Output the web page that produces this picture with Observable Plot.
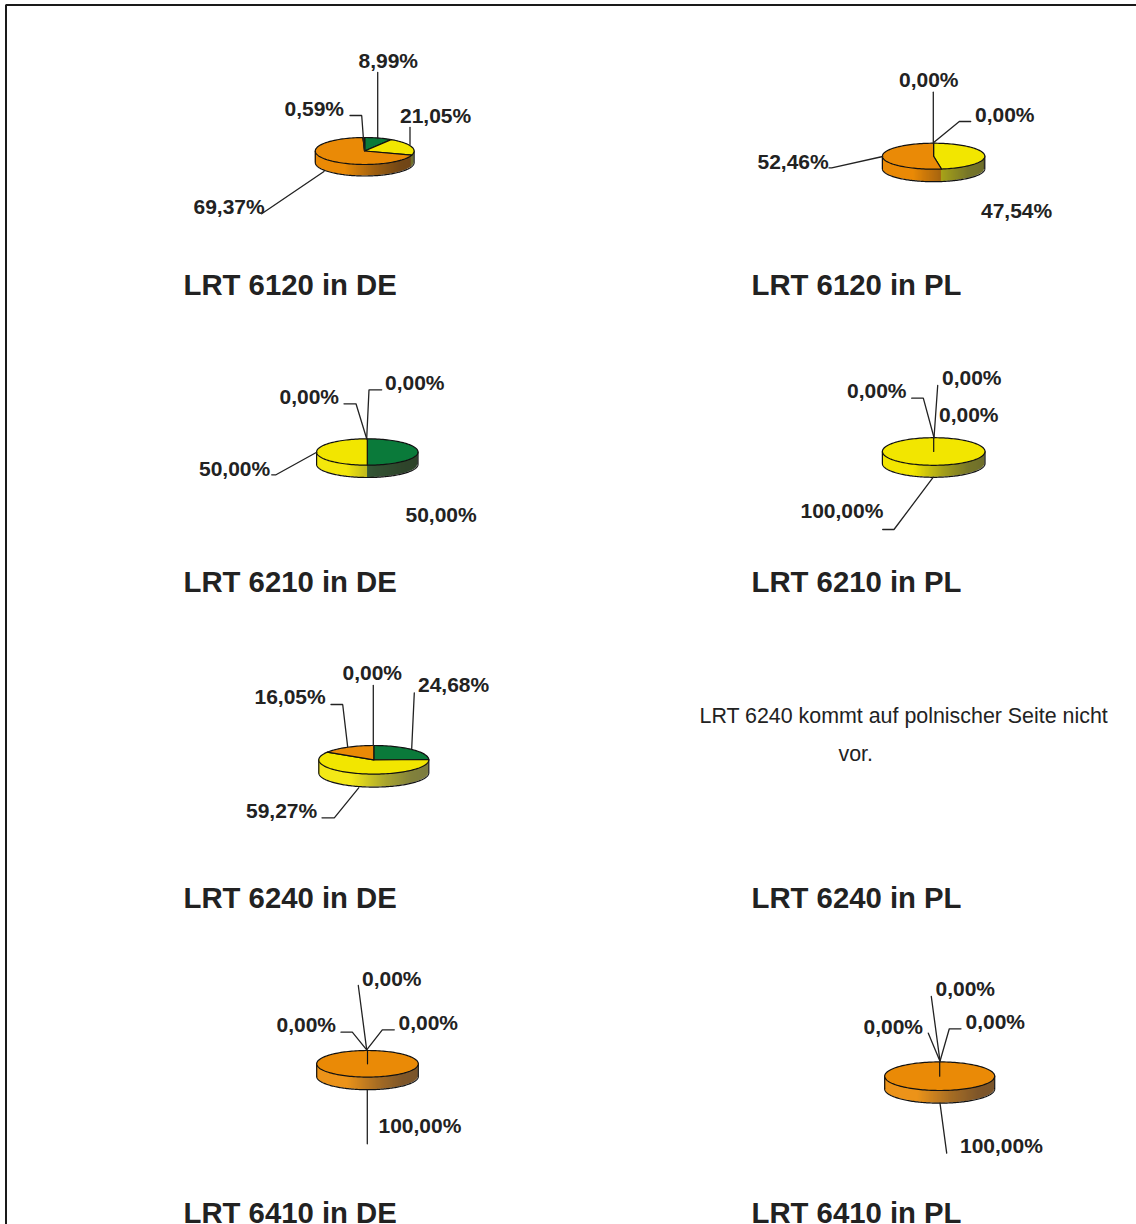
<!DOCTYPE html>
<html>
<head>
<meta charset="utf-8">
<style>html,body{margin:0;padding:0;background:#fff}svg{display:block}</style>
<script src="https://cdn.jsdelivr.net/npm/d3@7"></script>
<script src="https://cdn.jsdelivr.net/npm/@observablehq/plot@0.6"></script>
</head>
<body>
<script>
// ---- chart values ----
const panels = ["LRT 6120 in DE","LRT 6120 in PL","LRT 6210 in DE","LRT 6210 in PL","LRT 6240 in DE","LRT 6240 in PL","LRT 6410 in DE","LRT 6410 in PL"];
const green  = [ 8.99,  0.00, 50.00,   0.00, 24.68, null,   0.00,   0.00];
const yellow = [21.05, 47.54, 50.00, 100.00, 59.27, null,   0.00,   0.00];
const orange = [69.37, 52.46,  0.00,   0.00, 16.05, null, 100.00, 100.00];
const other  = [ 0.59,  0.00,  0.00,   0.00,  0.00, null,   0.00,   0.00];
const noteLines = ["LRT 6240 kommt auf polnischer Seite nicht", "vor."];

// ---- layout (page-pixel scale) ----
const titleX = [184,752,184,752,184,752,184,752];
const titleY = [285,285,582,582,898,898,1213,1213];
const noteX = [700,839], noteY = [716,754];
const pieCx = [364.7,933.6,367.3,933.7,373.8,null,367.5,939.7];
const pieCy = [150.5,155.7,451.5,451,759.3,null,1063.3,1075.7];
const pieRx = [49.4,51.2,50.7,51.3,55,null,50.8,55];
const pieRy = [13.5,13,13.2,13.8,14.3,null,13.3,14.3];
const pieDepth = [11.5,12.5,12.3,12,13,null,12.6,12.7];
// label anchors in order green, yellow, orange, other
const labelX = [[359,400.5,194,285],[975.5,981.5,758,899.5],[406,199.5,385.5,280],[942.5,801,939.5,847.5],[418.5,246.5,255,343],null,[399,277,379,362.5],[966,864,960.5,936]];
const labelY = [[61,116,207,109],[115,211,162,80],[515,469,383,397],[378,511,415,391],[685,811,697,673],null,[1023,1025,1126,979],[1022,1027,1146,989]];
const leaders = [
  [[377.7,72],[377.7,138]], [[350,115],[361.7,115],[364.3,150]], [[410,127],[410,144]], [[261.7,213.3],[324,171]],
  [[933.3,91.7],[933.3,142.7]], [[970.7,121],[959.3,121],[934,141.7]], [[829,167.3],[831.7,167.3],[882.7,156]],
  [[381.7,389.3],[369,389.3],[366.7,438.3]], [[344,403.3],[356,403.3],[366.7,438.3]], [[271.7,474.3],[276,474.3],[316.7,451.7]],
  [[937.7,385],[934,437.3]], [[911.7,397.7],[923.3,397.7],[934,437]], [[882.7,529],[894,529],[933.3,476.7]],
  [[373.3,685],[373.3,745]], [[414.3,692.3],[411.7,748.3]], [[331,704],[342.7,704],[347.7,746.7]], [[322,817.3],[334.3,817.3],[358.7,787.3]],
  [[358.3,985],[366.7,1049.3]], [[341,1031.7],[352.3,1031.7],[366.7,1049.3]], [[394.3,1029.3],[382.3,1029.3],[366.7,1049.3]], [[367.3,1090],[367.3,1143.3]],
  [[931.3,996],[940,1060.7]], [[928.3,1032.7],[940,1060.7]], [[961,1028.3],[949.3,1028.3],[940,1060.7]], [[940,1102.7],[946.7,1152.7]]
];
const border = [[5.5,1224],[5.5,4.5],[1136,4.5]];

// ---- colours ----
const topColor   = ["#0a7a3a","#f2e600","#ea8a06","#7a1f1f"];
const sideStart  = ["#2f5f35","#f2e600","#ea8a06","#7a1f1f"];
const sideEnd    = ["#243a20","#6f6f2c","#6e4518","#3a1515"];
const ink = "#222";
const font = "Liberation Sans, Arial, sans-serif";
const shade = d3.scaleLinear().domain([0,0.3,0.6,0.85,1]).range([0,0,0.6,0.95,1]);

// ---- derived geometry, from the values ----
const series = [green, yellow, orange, other];
const tops = [], strips = [], rims = [], labels = [];
const fmt = v => v.toFixed(2).replace(".", ",") + "%";
panels.forEach((name, p) => {
  if (pieCx[p] == null) return;
  const cx = pieCx[p], cy = pieCy[p], rx = pieRx[p], ry = pieRy[p], d = pieDepth[p];
  const vals = series.map(s => s[p]);
  const total = d3.sum(vals);
  let acc = 0;
  const cuts = vals.map(v => (acc += v) / total);
  acc = 0;
  vals.forEach((v, s) => {
    labels.push({x: labelX[p][s], y: labelY[p][s], text: fmt(v)});
    const f0 = acc / total; acc += v; const f1 = acc / total;
    if (v <= 0) return;
    const key = p + "-" + s;
    const n = Math.max(2, Math.ceil((f1 - f0) * 160));
    tops.push({k: key, x: cx, y: cy, c: topColor[s]});
    for (let i = 0; i <= n; i++) {
      const a = 2 * Math.PI * (f0 + (f1 - f0) * i / n);
      tops.push({k: key, x: cx + rx * Math.sin(a), y: cy - ry * Math.cos(a), c: topColor[s]});
    }
    tops.push({k: key, x: cx, y: cy, c: topColor[s]});
  });
  // front wall, a strip per pixel column, coloured by the slice facing it
  const lower = x => cy + ry * Math.sqrt(Math.max(0, 1 - ((x - cx) / rx) ** 2));
  const left = cx - rx, right = cx + rx;
  for (let i = 0; left + i < right; i++) {
    const x0 = left + i, x1 = Math.min(x0 + 1.4, right), xm = Math.min(x0 + 0.5, right);
    const theta = Math.PI - Math.asin((xm - cx) / rx);
    const frac = theta / (2 * Math.PI);
    const s = cuts.findIndex(c => frac <= c);
    const c = d3.interpolateRgb(sideStart[s], sideEnd[s])(shade((xm - left) / (2 * rx)));
    for (const x of [x0, x1]) strips.push({k: p + "-" + i, x, y1: lower(x), y2: lower(x) + d, c});
  }
  // outline of the wall
  rims.push({k: p, x: left, y: cy});
  for (let i = 0; i <= 120; i++) {
    const a = Math.PI * i / 120;
    rims.push({k: p, x: cx - rx * Math.cos(a), y: cy + d + ry * Math.sin(a)});
  }
  rims.push({k: p, x: right, y: cy});
});
const leaderPts = leaders.flatMap((l, i) => l.map(([x, y]) => ({k: i, x, y})));
const borderPts = border.map(([x, y]) => ({x, y}));
const titles = panels.map((t, i) => ({t, x: titleX[i], y: titleY[i]}));
const notes = noteLines.map((t, i) => ({t, x: noteX[i], y: noteY[i]}));

const chart = Plot.plot({
  width: 1136, height: 1224, margin: 0,
  x: {domain: [0, 1136], range: [0, 1136], axis: null},
  y: {domain: [0, 1224], range: [0, 1224], axis: null},
  color: {type: "identity"},
  style: {background: "#fff", fontFamily: font},
  marks: [
    Plot.line(borderPts, {x: "x", y: "y", stroke: "#1a1a1a", strokeWidth: 2, strokeLinejoin: "miter"}),
    Plot.area(strips, {x1: "x", y1: "y1", y2: "y2", z: "k", fill: "c", curve: "linear", dx: -0.5}),
    Plot.line(rims, {x: "x", y: "y", z: "k", stroke: "#111", strokeWidth: 1.2, curve: "linear", dx: -0.5}),
    Plot.line(tops, {x: "x", y: "y", z: "k", fill: "c", stroke: "#111", strokeWidth: 1.2, curve: "linear", dx: -0.5}),
    Plot.line(leaderPts, {x: "x", y: "y", z: "k", stroke: "#222", strokeWidth: 1.3, curve: "linear", strokeLinejoin: "miter", dx: -0.5}),
    Plot.text(labels, {x: "x", y: "y", text: "text", textAnchor: "start", lineAnchor: "middle", fontSize: 21, fontWeight: "bold", fontFamily: font, fill: ink, dx: -1}),
    Plot.text(titles, {x: "x", y: "y", text: "t", textAnchor: "start", lineAnchor: "middle", fontSize: 29.3, fontWeight: "bold", fontFamily: font, fill: ink, dx: -1}),
    Plot.text(notes, {x: "x", y: "y", text: "t", textAnchor: "start", lineAnchor: "middle", fontSize: 21.4, fontFamily: font, fill: ink, dx: -1})
  ]
});
document.body.appendChild(chart);
</script>
</body>
</html>
